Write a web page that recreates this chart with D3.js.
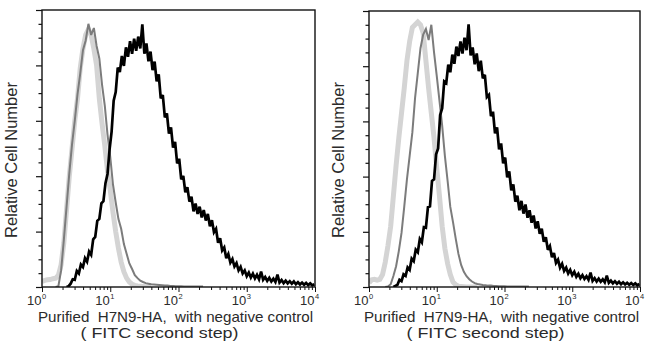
<!DOCTYPE html>
<html>
<head>
<meta charset="utf-8">
<script src="https://cdn.jsdelivr.net/npm/d3@7"></script>
<style>
  body { margin: 0; background: #fff; }
  svg { display: block; }
  text { font-family: "Liberation Sans", Arial, sans-serif; fill: #2b2b2b; }
</style>
</head>
<body>
<svg id="chart" width="650" height="343"></svg>
<script>
// Axis decades (10^0 .. 10^4) and relative count ticks
const decades = [0, 1, 2, 3, 4];
const countMajorTicks = [0, 20, 40, 60, 80, 100];
const countMinorTicks = [5, 10, 15, 25, 30, 35, 45, 50, 55, 65, 70, 75, 85, 90, 95];

const axisTitleY = "Relative Cell Number";
const axisTitleX1 = "Purified  H7N9-HA,  with negative control";
const axisTitleX2 = "( FITC second step)";

// Channel grids: first channel (log10 intensity) and channel width
const ctrlStart = 0.0, ctrlStep = 0.04;       // unstained cells
const isoStartLeft = 0.20, isoStartRight = 0.24, isoStep = 0.04;  // negative control
const posStart = 0.36, posStep = 0.03;         // H7N9-HA stained

// Left panel histograms
const leftUnstained = [2.0, 2.4, 2.6, 2.7, 3.0, 3.2, 4.2, 8.0, 16, 28, 40, 50, 60, 68, 79, 86, 91, 93, 91, 86,
  80, 68, 59, 51, 42, 35, 27, 20, 14, 9, 5.5, 3.2, 1.8, 1.0, 0.6, 0.4, 0.3, 0.2, 0.1, 0, 0];
const leftControl = [0, 0.3, 6, 17, 29, 41, 51.5, 60, 69.5, 77, 85.5, 89, 95, 91, 93.5, 87, 82.5, 73, 65.5, 55,
  47, 37, 30.5, 24.5, 21, 15.5, 12, 8.5, 6.5, 4.3, 3.2, 2.3, 1.8, 1.4, 1.2, 1.0, 0.9, 0.8, 0.7, 0.6,
  0.5, 0.5, 0.4, 0.4, 0.3, 0.3, 0.3, 0.2, 0.2, 0.2, 0.2, 0.2, 0.2, 0.2, 0.2];
const leftStained = [0, 0.3, 1.2, 2.8, 2.6, 5.8, 4.9, 8.1, 7.2, 10.4, 9.1, 12.8, 11.6, 17.2, 18.1, 23.9, 24.6, 30.2, 31.0, 37.5,
  40.8, 49.6, 56.1, 67.3, 70.4, 79.2, 77.6, 83.4, 79.8, 86.5, 83.1, 88.7, 84.2, 89.6, 85.3, 90.4, 86.1, 94.8, 84.2, 87.9,
  81.5, 85.0, 78.3, 81.4, 74.2, 76.8, 68.1, 69.3, 61.2, 62.7, 55.4, 57.6, 50.3, 52.4, 44.6, 46.3, 38.9, 40.1, 34.2, 36.0,
  30.8, 32.6, 27.3, 30.1, 26.4, 29.0, 25.1, 27.8, 24.0, 26.4, 21.9, 24.1, 19.8, 21.0, 16.0, 17.6, 13.2, 14.3, 10.4, 11.9,
  8.8, 10.1, 7.4, 8.6, 6.0, 7.3, 4.9, 6.0, 3.9, 5.2, 3.4, 4.8, 3.1, 4.4, 2.8, 5.6, 2.6, 3.6, 2.2, 3.3,
  2.0, 3.0, 1.8, 4.5, 1.6, 2.5, 1.4, 2.3, 1.3, 2.1, 1.2, 2.0, 1.0, 1.7, 0.9, 1.6, 0.8, 1.5, 0.7, 1.3,
  0.6, 1.0];

// Right panel histograms
const rightUnstained = [1.5, 2.6, 2.8, 2.5, 2.8, 4.5, 9, 15, 22, 33, 44, 54, 63, 72, 82, 89, 94, 95, 96, 95,
  92, 82, 72, 63, 54, 43, 33, 22, 14, 8.5, 4.5, 1.8, 0.8, 0.3, 0.2, 0.1, 0, 0, 0, 0, 0];
const rightControl = [0, 0.2, 1.0, 4, 7.5, 13, 19.6, 29, 39, 47.5, 56, 68.5, 77.5, 86.5, 91.5, 93.5, 89.5, 95, 85, 76.5,
  67.5, 58.5, 47.5, 38.5, 29, 23.5, 17.5, 12, 8, 5.5, 3.9, 2.8, 2.0, 1.4, 1.1, 0.9, 0.7, 0.6, 0.5, 0.5,
  0.4, 0.4, 0.3, 0.3, 0.3, 0.2, 0.2, 0.2, 0.2, 0.2, 0.2, 0.2, 0.2, 0.2];
const rightStained = [0, 0.4, 0.8, 2.6, 2.1, 4.6, 4.0, 7.1, 6.2, 10.3, 9.4, 13.5, 12.6, 17.4, 16.2, 21.7, 21.5, 28.9, 29.2, 38.4,
  39.0, 48.1, 50.2, 62.3, 64.8, 74.5, 73.9, 80.6, 77.8, 84.2, 80.9, 87.1, 83.7, 89.0, 84.6, 90.3, 85.8, 95.2, 83.9, 86.8,
  80.7, 84.6, 78.2, 82.0, 75.6, 76.9, 68.8, 69.6, 61.9, 63.5, 55.7, 57.8, 49.9, 52.0, 44.8, 46.9, 39.7, 41.9, 35.0, 37.2,
  30.9, 33.1, 27.8, 31.2, 26.6, 29.9, 25.1, 27.8, 23.3, 25.9, 21.2, 23.8, 19.3, 21.1, 16.4, 18.0, 13.5, 14.8, 10.8, 12.3,
  8.7, 9.9, 7.0, 8.4, 5.8, 7.0, 4.9, 6.2, 4.3, 5.5, 3.7, 4.8, 3.2, 4.3, 2.9, 3.9, 2.6, 5.2, 2.2, 3.2,
  2.0, 3.0, 1.9, 2.8, 1.7, 4.1, 1.5, 2.3, 1.3, 2.1, 1.2, 1.9, 1.0, 1.7, 0.9, 1.5, 0.8, 1.4, 0.7, 1.3,
  0.6, 1.1];

const svg = d3.select("#chart");

const panels = [
  { left: 42, right: 315, top: 10, bottom: 287,
    hist: [[leftUnstained, ctrlStart, ctrlStep], [leftControl, isoStartLeft, isoStep], [leftStained, posStart, posStep]] },
  { left: 369, right: 640, top: 11, bottom: 287,
    hist: [[rightUnstained, ctrlStart, ctrlStep], [rightControl, isoStartRight, isoStep], [rightStained, posStart, posStep]] }
];

// stroke styles: unstained (wide light gray), control (mid gray), stained (black)
const styles = [
  { stroke: "#d4d4d4", width: 5, curve: d3.curveLinear },
  { stroke: "#7c7c7c", width: 2, curve: d3.curveLinear },
  { stroke: "#000000", width: 2.7, curve: d3.curveLinear }
];

panels.forEach((p, pi) => {
  const x = d3.scaleLog().domain([1, 1e4]).range([p.left, p.right]);
  const y = d3.scaleLinear().domain([0, 100]).range([p.bottom, p.top]);
  const g = svg.append("g");

  const clipId = "plot-clip-" + pi;
  svg.append("clipPath").attr("id", clipId)
    .append("rect").attr("x", p.left).attr("y", p.top)
    .attr("width", p.right - p.left).attr("height", p.bottom - p.top);

  const plot = g.append("g").attr("clip-path", `url(#${clipId})`);
  p.hist.forEach(([vals, start, step], si) => {
    const pts = vals.map((v, i) => [start + i * step, v]);
    const line = d3.line()
      .x(d => x(Math.pow(10, d[0])))
      .y(d => y(d[1]))
      .curve(styles[si].curve);
    plot.append("path")
      .attr("d", line(pts))
      .attr("fill", "none")
      .attr("stroke", styles[si].stroke)
      .attr("stroke-width", styles[si].width)
      .attr("stroke-linejoin", "miter")
      .attr("stroke-miterlimit", 3);
  });

  // x axis ticks: decades (long) and 2..9 minors (short)
  const minorX = [];
  for (let d = 0; d < 4; d++) for (let k = 2; k <= 9; k++) minorX.push(k * Math.pow(10, d));
  const xMajor = d3.axisBottom(x).tickValues(decades.map(d => Math.pow(10, d))).tickSize(5).tickFormat("");
  const xMinor = d3.axisBottom(x).tickValues(minorX).tickSize(3).tickFormat("");
  [xMajor, xMinor].forEach(ax => {
    const a = g.append("g").attr("transform", `translate(0,${p.bottom})`).call(ax);
    a.select(".domain").remove();
    a.selectAll("line").attr("stroke", "#111").attr("stroke-width", 1);
  });

  // y axis ticks
  const yMajor = d3.axisLeft(y).tickValues(countMajorTicks).tickSize(6).tickFormat("");
  const yMinor = d3.axisLeft(y).tickValues(countMinorTicks).tickSize(3.5).tickFormat("");
  [yMajor, yMinor].forEach(ax => {
    const a = g.append("g").attr("transform", `translate(${p.left},0)`).call(ax);
    a.select(".domain").remove();
    a.selectAll("line").attr("stroke", "#111").attr("stroke-width", 1.2);
  });

  // frame
  g.append("rect")
    .attr("x", p.left).attr("y", p.top)
    .attr("width", p.right - p.left).attr("height", p.bottom - p.top)
    .attr("fill", "none").attr("stroke", "#111").attr("stroke-width", 1.4);

  // decade labels 10^n
  decades.forEach(d => {
    const tx = x(Math.pow(10, d));
    g.append("text").attr("x", tx - 0.5).attr("y", 305)
      .attr("text-anchor", "end").attr("font-size", 13).text("10");
    g.append("text").attr("x", tx).attr("y", 298.5)
      .attr("text-anchor", "start").attr("font-size", 7.5).text(String(d));
  });

  // axis titles
  const cx = (p.left + p.right) / 2;
  g.append("text")
    .attr("transform", `translate(${p.left - 25},160) rotate(-90)`)
    .attr("text-anchor", "middle").attr("font-size", 16.5)
    .text(axisTitleY);
  g.append("text")
    .attr("x", cx - 3).attr("y", 322)
    .attr("text-anchor", "middle").attr("font-size", 14.5)
    .attr("textLength", 275).attr("lengthAdjust", "spacingAndGlyphs")
    .style("white-space", "pre")
    .text(axisTitleX1);
  g.append("text")
    .attr("x", cx - 19).attr("y", 338)
    .attr("text-anchor", "middle").attr("font-size", 14.5)
    .attr("textLength", 158).attr("lengthAdjust", "spacingAndGlyphs")
    .style("white-space", "pre")
    .text(axisTitleX2);
});
</script>
</body>
</html>
